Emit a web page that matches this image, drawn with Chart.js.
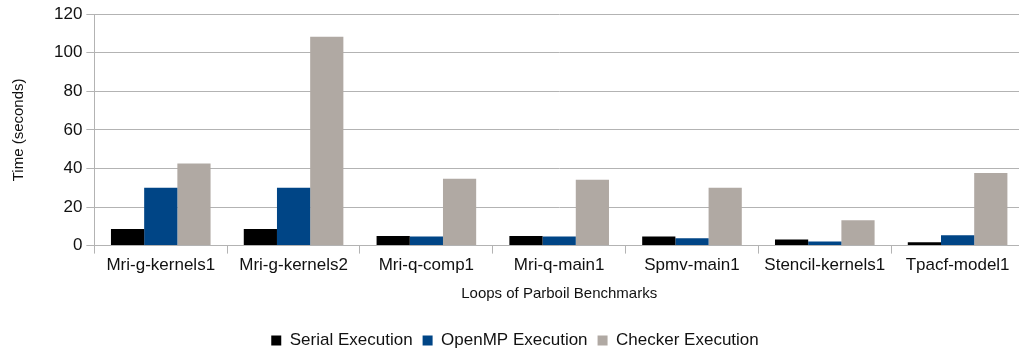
<!DOCTYPE html>
<html>
<head>
<meta charset="utf-8">
<script src="https://cdn.jsdelivr.net/npm/chart.js@4/dist/chart.umd.min.js"></script>
<style>
  html, body { margin: 0; padding: 0; background: #fff; overflow: hidden; }
  #wrap { width: 1024px; height: 359px; }
</style>
</head>
<body>
<div id="wrap"><canvas id="chart"></canvas></div>
<script>
const loops = ["Mri-g-kernels1", "Mri-g-kernels2", "Mri-q-comp1", "Mri-q-main1", "Spmv-main1", "Stencil-kernels1", "Tpacf-model1"];
const serialTimes = [8.6, 8.6, 5.0, 5.0, 4.7, 3.2, 1.7];
const openmpTimes = [30.0, 30.0, 4.7, 4.7, 3.8, 2.1, 5.4];
const checkerTimes = [42.6, 108.3, 34.7, 34.2, 30.0, 13.1, 37.6];
const yTicks = [0, 20, 40, 60, 80, 100, 120];

Chart.defaults.font.family = "'Liberation Sans', Arial, sans-serif";
Chart.defaults.color = "#222";

const ctx = document.getElementById("chart").getContext("2d");
new Chart(ctx, {
  type: "bar",
  data: {
    labels: loops,
    datasets: [
      { label: "Serial Execution", data: serialTimes, backgroundColor: "#000000" },
      { label: "OpenMP Execution", data: openmpTimes, backgroundColor: "#004586" },
      { label: "Checker Execution", data: checkerTimes, backgroundColor: "#b0a9a3" }
    ]
  },
  options: {
    responsive: true,
    maintainAspectRatio: false,
    animation: false,
    layout: { padding: { top: 9, right: 0, left: 6, bottom: 0 } },
    datasets: { bar: { categoryPercentage: 0.75, barPercentage: 1.0 } },
    plugins: {
      tooltip: { enabled: false },
      legend: {
        position: "bottom",
        labels: {
          boxWidth: 10,
          boxHeight: 10,
          padding: 10,
          font: { size: 17 },
          color: "#111"
        }
      }
    },
    scales: {
      x: {
        grid: { display: true, drawOnChartArea: false, tickLength: 8, color: "#b3b3b3" },
        border: { color: "#b3b3b3" },
        ticks: { font: { size: 17 }, color: "#111", maxRotation: 0, padding: 2 },
        title: { display: true, text: "Loops of Parboil Benchmarks", font: { size: 15 }, color: "#111", padding: { top: 7, bottom: 19 } }
      },
      y: {
        min: 0,
        max: 120,
        afterBuildTicks: axis => { axis.ticks = yTicks.map(v => ({ value: v })); },
        grid: { color: "#b3b3b3", lineWidth: 1, tickLength: 8 },
        border: { color: "#b3b3b3" },
        ticks: { font: { size: 17 }, color: "#111", padding: 4 },
        title: { display: true, text: "Time (seconds)", font: { size: 15 }, color: "#111", padding: { bottom: 22 } }
      }
    }
  }
});
</script>
</body>
</html>
